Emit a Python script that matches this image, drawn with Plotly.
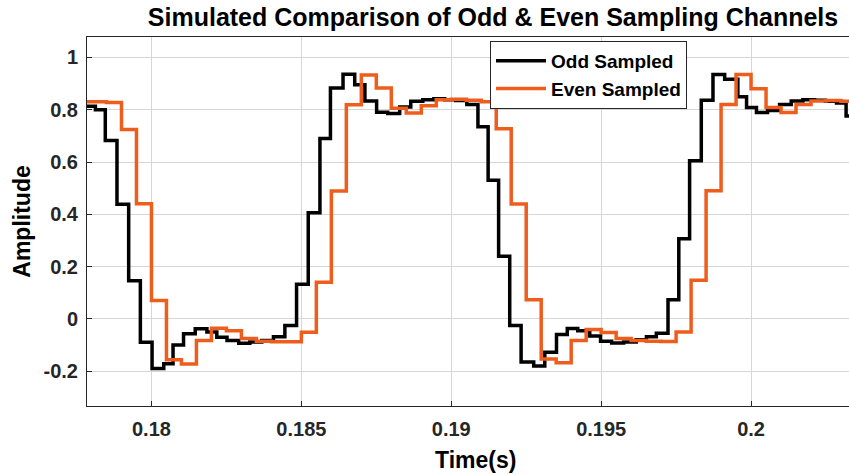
import plotly.graph_objects as go

# Odd sampled channel (step edges: time in s, amplitude)
odd_t = [0.1775, 0.17813, 0.17846, 0.17885, 0.17924, 0.17963, 0.18002, 0.18041, 0.18072, 0.18107,
         0.18146, 0.18185, 0.18218, 0.18252, 0.18291, 0.18328, 0.18368, 0.18407, 0.18445, 0.18484,
         0.18523, 0.18562, 0.18597, 0.18639, 0.18678, 0.18712, 0.18751, 0.18788, 0.18828, 0.18865,
         0.18905, 0.18942, 0.18978, 0.19015, 0.19052, 0.19089, 0.19123, 0.19158, 0.19195, 0.19233,
         0.19275, 0.19312, 0.19351, 0.19387, 0.19422, 0.19462, 0.19498, 0.19535, 0.19575, 0.19617,
         0.19651, 0.19684, 0.19723, 0.19759, 0.19795, 0.19834, 0.19873, 0.19912, 0.19956, 0.19985,
         0.20018, 0.20055, 0.20095, 0.20134, 0.20173, 0.20212, 0.20248, 0.20285, 0.20317, 0.2035]
odd_v = [0.813, 0.80, 0.682, 0.438, 0.146, -0.089, -0.19, -0.171, -0.10, -0.057,
         -0.038, -0.05, -0.07, -0.083, -0.093, -0.088, -0.083, -0.068, -0.025, 0.133,
         0.406, 0.69, 0.883, 0.936, 0.895, 0.833, 0.79, 0.785, 0.81, 0.832,
         0.838, 0.842, 0.838, 0.835, 0.82, 0.735, 0.53, 0.24, -0.025, -0.165,
         -0.18, -0.127, -0.06, -0.037, -0.045, -0.065, -0.085, -0.092, -0.088, -0.08,
         -0.068, -0.055, 0.073, 0.307, 0.605, 0.836, 0.935, 0.916, 0.85, 0.808,
         0.789, 0.797, 0.82, 0.833, 0.838, 0.836, 0.832, 0.826, 0.776, 0.776]

# Even sampled channel
even_t = [0.1775, 0.178, 0.1785, 0.179, 0.1795, 0.18, 0.1805, 0.181, 0.1815, 0.182,
          0.1825, 0.183, 0.1835, 0.184, 0.1845, 0.185, 0.1855, 0.186, 0.1865, 0.187,
          0.1875, 0.188, 0.1885, 0.189, 0.1895, 0.19, 0.1905, 0.191, 0.1915, 0.192,
          0.1925, 0.193, 0.1935, 0.194, 0.1945, 0.195, 0.1955, 0.196, 0.1965, 0.197,
          0.1975, 0.198, 0.1985, 0.199, 0.1995, 0.2, 0.2005, 0.201, 0.2015, 0.202,
          0.2025, 0.203, 0.2035]
even_v = [0.83, 0.83, 0.828, 0.724, 0.44, 0.07, -0.156, -0.172, -0.083, -0.036,
          -0.045, -0.075, -0.085, -0.087, -0.087, -0.051, 0.14, 0.489, 0.819, 0.933,
          0.883, 0.806, 0.787, 0.815, 0.838, 0.84, 0.836, 0.83, 0.727, 0.439,
          0.073, -0.153, -0.168, -0.083, -0.04, -0.052, -0.075, -0.083, -0.085, -0.086,
          -0.05, 0.148, 0.49, 0.82, 0.935, 0.88, 0.808, 0.789, 0.82, 0.833,
          0.835, 0.832, 0.832]

x_ticks = [0.18, 0.185, 0.19, 0.195, 0.2]
x_labels = ["0.18", "0.185", "0.19", "0.195", "0.2"]
y_ticks = [-0.2, 0, 0.2, 0.4, 0.6, 0.8, 1]
y_labels = ["-0.2", "0", "0.2", "0.4", "0.6", "0.8", "1"]

FONT = "Liberation Sans"
AX = "#262626"
GRID = "#d6d6d6"

fig = go.Figure()
fig.add_trace(go.Scatter(x=odd_t, y=odd_v, mode="lines", name="Odd Sampled",
                         line=dict(color="#000000", width=3.5, shape="hv")))
fig.add_trace(go.Scatter(x=even_t, y=even_v, mode="lines", name="Even Sampled",
                         line=dict(color="#EE5D1C", width=3.5, shape="hv")))

W, H = 849, 475
L, R, T, B = 87, 0, 37, 69
pw, ph = W - L - R, H - T - B

axis_common = dict(
    showgrid=True, gridcolor=GRID, gridwidth=1,
    showline=True, linecolor=AX, linewidth=1,
    ticks="inside", ticklen=5, tickcolor=AX, tickwidth=1,
    zeroline=False,
    tickfont=dict(family=FONT, size=20, color=AX, weight="bold"),
)

fig.update_layout(
    width=W, height=H,
    margin=dict(l=L, r=R, t=T, b=B, pad=0),
    paper_bgcolor="white", plot_bgcolor="white",
    font=dict(family=FONT, color=AX),
    title=dict(text="Simulated Comparison of Odd & Even Sampling Channels",
               font=dict(family=FONT, size=25, color="#000000", weight="bold"),
               xref="paper", x=(493 - L) / pw, xanchor="center",
               yref="container", y=1 - 17 / H, yanchor="middle"),
    xaxis=dict(range=[0.17785, 0.203267], tickvals=x_ticks, ticktext=x_labels,
               mirror=True, ticklabelstandoff=5, **axis_common),
    yaxis=dict(range=[-0.333, 1.078], tickvals=y_ticks, ticktext=y_labels,
               mirror=False, ticklabelstandoff=4,
               title=dict(text="Amplitude", standoff=6,
                          font=dict(family=FONT, size=23, color="#000000", weight="bold")),
               **axis_common),
    legend=dict(x=(490 - L) / pw, y=(H - B - 41) / ph, xanchor="left", yanchor="top",
                bgcolor="white", bordercolor=AX, borderwidth=1,
                font=dict(family=FONT, size=19, color="#000000", weight="bold"),
                tracegroupgap=0, itemwidth=50),
    showlegend=True,
    annotations=[dict(text="Time(s)", xref="paper", yref="paper",
                      x=(475 - L) / pw, y=(H - B - 460) / ph,
                      xanchor="center", yanchor="middle", showarrow=False,
                      font=dict(family=FONT, size=23, color="#000000", weight="bold"))],
)

fig.write_html("out.html")
